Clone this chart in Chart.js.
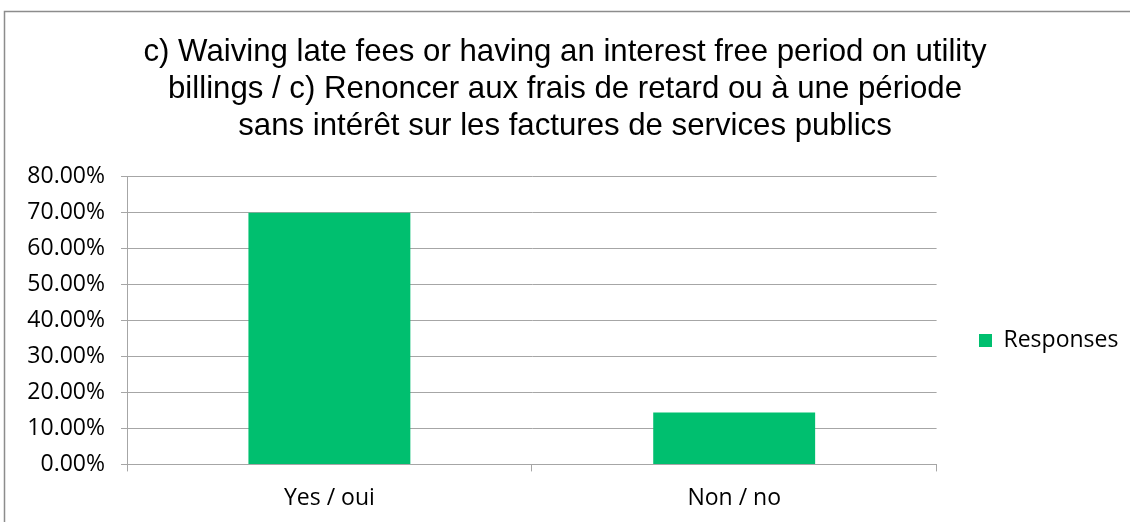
<!DOCTYPE html>
<html>
<head>
<meta charset="utf-8">
<script src="https://cdn.jsdelivr.net/npm/chart.js@4/dist/chart.umd.min.js"></script>
<style>
  html, body { margin: 0; padding: 0; background: #fff; }
  #wrap { position: relative; width: 1130px; height: 522px; }
</style>
</head>
<body>
<div id="wrap"><canvas id="c" width="1130" height="522"></canvas></div>
<script>
const titleLines = [
  "c) Waiving late fees or having an interest free period on utility",
  "billings / c) Renoncer aux frais de retard ou à une période",
  "sans intérêt sur les factures de services publics"
];
const categories = ["Yes / oui", "Non / no"];
const seriesName = "Responses";
const responses = [69.9, 14.4];
const yTicks = [0, 10, 20, 30, 40, 50, 60, 70, 80];

const GRID = '#a6a6a6';
const tickFont = { family: "'Open Sans', 'Noto Sans', sans-serif", size: 23 };

const frame = {
  id: 'frame',
  beforeDraw(chart) {
    const ctx = chart.ctx;
    ctx.save();
    ctx.fillStyle = '#fff';
    ctx.fillRect(0, 0, chart.width, chart.height);
    ctx.strokeStyle = '#8c8c8c';
    ctx.lineWidth = 1.5;
    ctx.beginPath();
    ctx.moveTo(4.5, chart.height + 2);
    ctx.lineTo(4.5, 11.5);
    ctx.lineTo(chart.width + 2, 11.5);
    ctx.stroke();
    ctx.restore();
  },
  afterLayout(chart) {
    const lg = chart.legend;
    if (lg) {
      const w = lg.right - lg.left;
      lg.left = 969; lg.right = 969 + w;
      lg.top = 319; lg.bottom = 359;
    }
    const tb = chart.titleBlock;
    if (tb) { tb.left = 0; tb.right = chart.width; tb.width = chart.width; }
  }
};

new Chart(document.getElementById('c'), {
  type: 'bar',
  data: {
    labels: categories,
    datasets: [{
      label: seriesName,
      data: responses,
      backgroundColor: '#00bf6f',
      borderWidth: 0,
      categoryPercentage: 1.0,
      barPercentage: 0.4
    }]
  },
  options: {
    responsive: false,
    animation: false,
    layout: { padding: { left: 0, right: 34, top: 0, bottom: -3 } },
    plugins: {
      title: {
        display: true,
        text: titleLines,
        color: '#000',
        font: { family: "'Liberation Sans', Arial, sans-serif", size: 31.2, weight: 'normal', lineHeight: 1.19 },
        padding: { top: 34, bottom: 31 }
      },
      legend: {
        display: true,
        position: 'right',
        align: 'start',
        labels: {
          color: '#000',
          boxWidth: 13,
          boxHeight: 13,
          padding: 10,
          font: tickFont
        }
      },
      tooltip: { enabled: false }
    },
    scales: {
      x: {
        grid: { display: true, drawOnChartArea: false, drawTicks: true, tickLength: 7, offset: true, color: GRID },
        border: { display: true, color: GRID, width: 1 },
        ticks: { color: '#000', font: tickFont, padding: 13 }
      },
      y: {
        min: 0,
        max: 80,
        afterBuildTicks(axis) { axis.ticks = yTicks.map(v => ({ value: v })); },
        afterFit(axis) { axis.width = 127; },
        grid: { display: true, color: GRID, tickLength: 6, drawTicks: true },
        border: { display: true, color: GRID, width: 1 },
        ticks: {
          color: '#000',
          font: tickFont,
          padding: 16,
          callback: v => v.toFixed(2) + '%'
        }
      }
    }
  },
  plugins: [frame]
});
</script>
</body>
</html>
